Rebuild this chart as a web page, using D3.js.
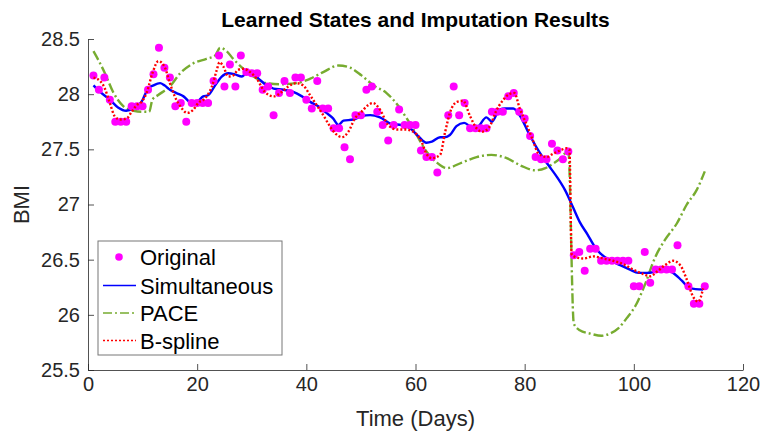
<!DOCTYPE html>
<html>
<head>
<meta charset="utf-8">
<script src="https://cdn.jsdelivr.net/npm/d3@7"></script>
<style>
  html, body { margin: 0; padding: 0; background: #fff; }
  svg { display: block; font-family: "Liberation Sans", Arial, Helvetica, sans-serif; }
</style>
</head>
<body>
<svg id="chart" width="761" height="433"></svg>
<script>
// Observed BMI measurements (day, value)
const originalDays = [1,2,3,4,5,6,7,8,9,10,11,12,13,14,15,16,17,18,19,20,21,22,23,24,25,26,27,28,29,30,31,32,33,34,35,36,37,38,39,40,41,42,43,44,45,46,47,48,49,50,51,52,53,54,55,56,57,58,59,60,61,62,63,64,66,67,68,69,70,71,72,73,74,75,76,77,78,79,80,81,82,83,84,85,86,87,88,89,90,91,92,93,94,95,96,97,98,99,100,101,102,103,104,105,106,107,108,110,111,112,113];
const originalBMI = [28.17,28.04,28.15,27.95,27.75,27.75,27.75,27.89,27.89,27.89,28.04,28.18,28.42,28.24,28.15,27.89,27.92,27.75,27.92,27.92,27.92,27.92,28.12,28.35,28.07,28.27,28.07,28.35,28.20,28.19,28.19,28.04,28.07,27.81,28.01,28.12,28.01,28.15,28.15,27.95,27.87,28.12,27.87,27.87,27.69,27.69,27.52,27.41,27.81,27.81,28.04,28.07,27.84,27.72,27.58,27.72,27.86,27.72,27.72,27.72,27.49,27.43,27.43,27.29,27.81,28.07,27.81,27.92,27.69,27.69,27.69,27.69,27.84,27.84,27.84,27.98,28.01,27.84,27.78,27.62,27.43,27.41,27.41,27.55,27.49,27.41,27.48,26.54,26.57,26.40,26.60,26.60,26.49,26.49,26.49,26.49,26.49,26.49,26.26,26.26,26.57,26.29,26.41,26.41,26.41,26.41,26.63,26.26,26.10,26.10,26.26];

// Learned state from simultaneous estimation
const simDays = [1,2,4,5.5,7,8.3,9.8,11,12,13.2,14,15,16.2,17.5,19,20,21.1,22,23.3,24.5,25.7,26.9,28.2,29,30.3,31.5,32.7,34,35.8,37.6,39.2,40.7,42.2,43.7,44.9,45.9,46.8,48.6,50.1,51.7,53.5,55.6,57.5,59,60.5,62,63,64.5,65.4,66.3,67.5,68.9,70,71.2,73,74,75.4,76.4,77.9,79.2,80.7,82.5,84.3,85.9,87.4,88.9,90.1,91.5,92.8,93.8,95.1,97.5,99.3,100.8,102.4,103.9,105.7,107.2,108.8,110.3,112.7];
const simBMI = [28.08,28.03,27.95,27.88,27.85,27.87,27.93,28.05,28.08,28.10,28.08,28.04,28.01,27.98,27.92,27.93,27.98,27.99,28.08,28.16,28.19,28.18,28.16,28.19,28.18,28.13,28.08,28.05,28.04,28.02,27.98,27.93,27.89,27.83,27.78,27.72,27.76,27.77,27.80,27.81,27.79,27.73,27.72,27.69,27.62,27.56,27.57,27.61,27.61,27.63,27.71,27.74,27.71,27.70,27.79,27.75,27.86,27.87,27.87,27.80,27.65,27.49,27.36,27.25,27.13,26.97,26.84,26.73,26.62,26.56,26.51,26.45,26.41,26.38,26.38,26.39,26.41,26.38,26.31,26.24,26.23];

// PACE reconstruction
const paceDays = [1,2,3.1,4.6,6.5,8.4,10,11.2,11.8,12.8,15,16.9,19.3,21.7,23.3,24.2,25.4,26.6,28.5,30.3,32.7,35.2,38.2,40.7,43.1,45.9,48,50.1,52.3,54.7,56.9,58.4,60.1,62,63.9,65.7,68.5,71.2,73.9,76.7,79.4,81.9,83.8,85.2,86.8,88,89,90.1,92,94.1,95.6,97.2,98.7,100.5,102,103.9,105.7,107.9,109.7,111.5,113];
const paceBMI = [28.39,28.30,28.19,28.02,27.89,27.85,27.84,27.84,27.95,27.99,28.07,28.19,28.28,28.32,28.35,28.42,28.39,28.32,28.23,28.16,28.10,28.09,28.10,28.14,28.20,28.26,28.24,28.17,28.08,28.01,27.89,27.78,27.64,27.48,27.38,27.33,27.38,27.43,27.45,27.42,27.35,27.31,27.33,27.37,27.43,27.49,25.92,25.86,25.83,25.81,25.83,25.88,25.97,26.10,26.27,26.52,26.68,26.83,27.00,27.13,27.30];

// B-spline smoothing
const bsplDays = [1,2.2,3.1,4,4.9,5.9,7.1,8,8.9,9.8,10.8,11.8,12.9,14.1,15,15.9,16.9,18.2,19.3,20.2,21.4,22.7,23.6,24.1,24.8,25.7,26.6,27.5,28.5,29.7,30.9,32.4,34,35.5,36.7,38.2,39.4,40.7,41.9,43.1,44.3,45.4,46.5,47.7,48.9,50.1,51.3,52.2,53.5,55,56.6,58.1,59.6,61.1,62,63,64.5,65.4,66.3,67.6,68.7,70,71.2,72.2,73.5,74.8,75.8,77.2,78.1,79.1,80.4,81.6,82.4,84,85.2,86.5,87.7,88.2,88.6,89,90.8,92.6,94.4,96.2,98,99.9,101.7,103,104.2,105.7,107.2,108.5,109.7,110.9,111.8,112.7];
const bsplBMI = [28.15,28.12,28.05,27.92,27.80,27.77,27.78,27.84,27.90,27.93,28.02,28.19,28.30,28.24,28.10,27.98,27.89,27.83,27.86,27.92,27.96,28.07,28.22,28.29,28.25,28.16,28.17,28.22,28.23,28.20,28.14,28.02,27.98,28.02,28.07,28.10,28.08,27.99,27.90,27.81,27.71,27.64,27.61,27.66,27.78,27.84,27.90,27.92,27.86,27.72,27.68,27.68,27.66,27.57,27.46,27.42,27.45,27.65,27.83,27.93,27.94,27.80,27.69,27.66,27.70,27.85,27.93,28.00,28.01,27.87,27.72,27.57,27.47,27.43,27.46,27.49,27.51,27.50,26.55,26.53,26.51,26.53,26.51,26.49,26.46,26.41,26.37,26.35,26.39,26.45,26.49,26.45,26.32,26.16,26.12,26.24];

// Axis ticks
const xTicks = [0, 20, 40, 60, 80, 100, 120];
const yTicks = [25.5, 26, 26.5, 27, 27.5, 28, 28.5];

const titleText = "Learned States and Imputation Results";
const xLabel = "Time (Days)";
const yLabel = "BMI";
const legendNames = ["Original", "Simultaneous", "PACE", "B-spline"];

const svg = d3.select("#chart");
const plotLeft = 88, plotRight = 743, plotTop = 39, plotBottom = 370;

const x = d3.scaleLinear().domain([0, 120]).range([plotLeft, plotRight]);
const y = d3.scaleLinear().domain([25.5, 28.5]).range([plotBottom, plotTop]);

const axisColor = "#262626";

// Axes with inward ticks, no box
const xAxis = d3.axisBottom(x).tickValues(xTicks).tickSizeInner(-6).tickSizeOuter(0).tickPadding(7)
  .tickFormat(d3.format("d"));
const yAxis = d3.axisLeft(y).tickValues(yTicks).tickSizeInner(-6).tickSizeOuter(0).tickPadding(8)
  .tickFormat(d => String(d));

const gx = svg.append("g").attr("transform", `translate(0,${plotBottom})`).call(xAxis);
const gy = svg.append("g").attr("transform", `translate(${plotLeft},0)`).call(yAxis);
[gx, gy].forEach(g => {
  g.select(".domain").attr("stroke", axisColor).attr("stroke-width", 0.8);
  g.selectAll(".tick line").attr("stroke", axisColor).attr("stroke-width", 0.8);
  g.selectAll(".tick text").attr("fill", "#262626").style("font-size", "20px")
    .style("font-family", "'Liberation Sans', Arial, sans-serif");
});

// Series
const pts = (ds, vs) => ds.map((d, i) => [d, vs[i]]);
const line = d3.line().x(d => x(d[0])).y(d => y(d[1])).curve(d3.curveMonotoneX);

svg.append("path").datum(pts(paceDays, paceBMI)).attr("d", line)
  .attr("fill", "none").attr("stroke", "#77AC30").attr("stroke-width", 2.4)
  .attr("stroke-dasharray", "10,3,2,3");

svg.append("path").datum(pts(simDays, simBMI)).attr("d", line)
  .attr("fill", "none").attr("stroke", "#0000FF").attr("stroke-width", 2.4);

svg.append("g").selectAll("circle").data(pts(originalDays, originalBMI)).join("circle")
  .attr("cx", d => x(d[0])).attr("cy", d => y(d[1])).attr("r", 4).attr("fill", "#FF00FF");

svg.append("path").datum(pts(bsplDays, bsplBMI)).attr("d", line)
  .attr("fill", "none").attr("stroke", "#FF0000").attr("stroke-width", 2.4)
  .attr("stroke-dasharray", "2,2");

// Title and axis labels
svg.append("text").attr("x", (plotLeft + plotRight) / 2).attr("y", 27).attr("text-anchor", "middle")
  .style("font-size", "21px").style("font-weight", "bold").attr("fill", "#000").text(titleText);
svg.append("text").attr("x", (plotLeft + plotRight) / 2).attr("y", 426).attr("text-anchor", "middle")
  .style("font-size", "22px").attr("fill", "#262626").text(xLabel);
svg.append("text").attr("transform", `translate(29,${(plotTop + plotBottom) / 2}) rotate(-90)`)
  .attr("text-anchor", "middle").style("font-size", "22px").attr("fill", "#262626").text(yLabel);

// Legend
const lg = svg.append("g").attr("transform", "translate(98,241)");
lg.append("rect").attr("width", 184).attr("height", 114).attr("fill", "#fff")
  .attr("stroke", "#777").attr("stroke-width", 1);
const rowY = [16, 44.5, 72, 99.5];
const styles = [
  { type: "dot", color: "#FF00FF" },
  { type: "line", color: "#0000FF", dash: null },
  { type: "line", color: "#77AC30", dash: "9,3,2,3" },
  { type: "line", color: "#FF0000", dash: "2,2" }
];
legendNames.forEach((name, i) => {
  const s = styles[i];
  if (s.type === "dot") {
    lg.append("circle").attr("cx", 21).attr("cy", rowY[i]).attr("r", 3.8).attr("fill", s.color);
  } else {
    lg.append("line").attr("x1", 5).attr("x2", 38).attr("y1", rowY[i]).attr("y2", rowY[i])
      .attr("stroke", s.color).attr("stroke-width", 1.6)
      .attr("stroke-dasharray", s.dash);
  }
  lg.append("text").attr("x", 42).attr("y", rowY[i] + 8).style("font-size", "22px")
    .attr("fill", "#000").text(name);
});
</script>
</body>
</html>
